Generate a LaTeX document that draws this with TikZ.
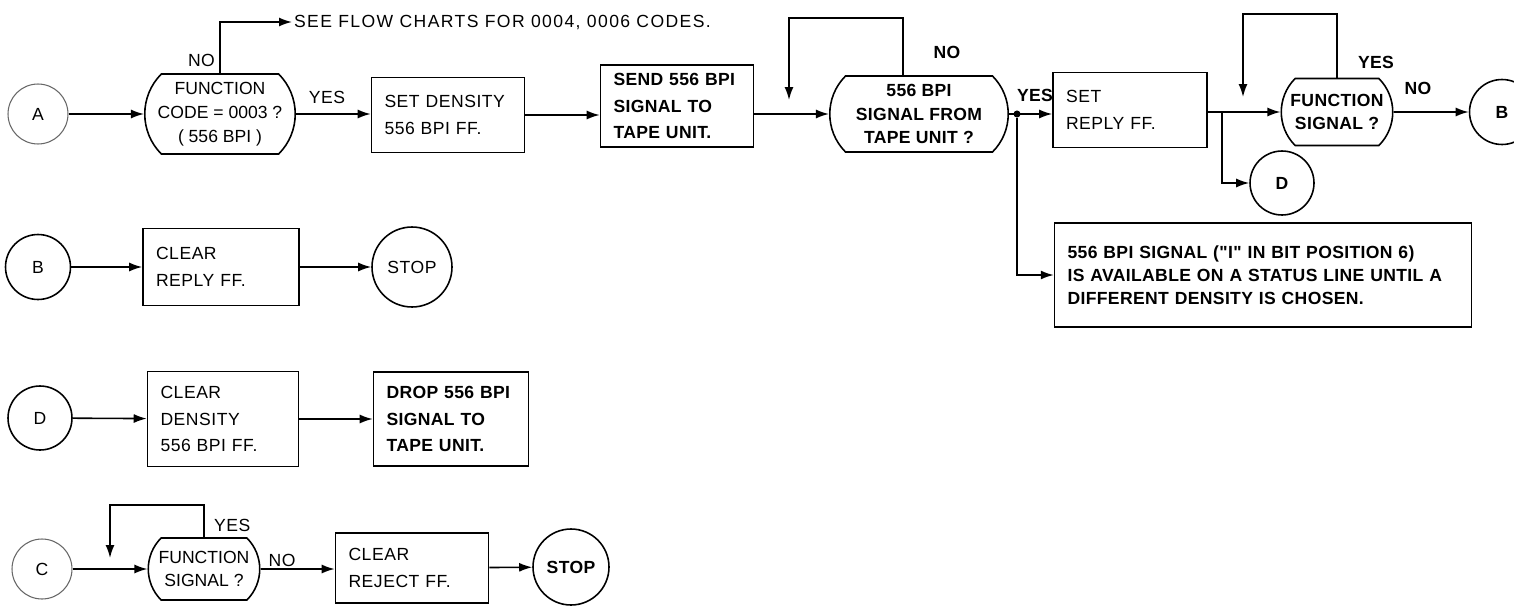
\documentclass[tikz,border=0pt]{standalone}
\usepackage{fontspec}
\setmainfont{Liberation Sans}
\newfontfamily\lightfont[LetterSpace=3]{Liberation Sans}
\newfontfamily\widefont[LetterSpace=8]{Liberation Sans}
\newfontfamily\heavyfont[LetterSpace=2]{Liberation Sans}
\usetikzlibrary{arrows.meta, positioning, shapes.misc}

\begin{document}
\begin{tikzpicture}[x=0.02cm, y=-0.02cm,
        font=\lightfont\fontsize{10}{13.5}\selectfont,
        box/.style={rectangle, draw, line width=0.9pt, align=left, inner xsep=0.26cm,
                    inner ysep=3pt, font=\lightfont\fontsize{10}{15}\selectfont},
        decide/.style={rounded rectangle, rounded rectangle arc length=90, draw,
                       line width=0.9pt, align=center, inner sep=1pt,
                       font=\rmfamily\fontsize{10}{13.5}\selectfont},
        conn/.style={circle, draw, line width=0.9pt, inner sep=0pt},
        flow/.style={-{Latex[length=2.6mm, width=1.8mm]}, line width=0.9pt},
        lbl/.style={inner sep=1pt},
        heavy/.style={font=\heavyfont\bfseries\fontsize{10}{13.5}\selectfont},
        heavybox/.style={font=\heavyfont\bfseries\fontsize{10}{15}\selectfont},
        dot/.style={circle, fill, inner sep=0pt, minimum size=4pt},
    ]
        \useasboundingbox (0,0) rectangle (1514,605);

        % Ligne 556 BPI
        \node[conn, draw=black!60, line width=0.6pt, minimum size=1.2cm] (conA) at (38,114) {A};
        \node[decide, minimum width=3.08cm, minimum height=1.6cm] (codeq) at (220,114)
            {FUNCTION\\CODE = 0003 ?\\( 556 BPI )};
        \node[box, text width=2.54cm, minimum height=1.5cm] (setdens) at (448,115)
            {SET DENSITY\\556 BPI FF.};
        \node[box, heavybox, text width=2.54cm, minimum height=1.64cm] (sendsig) at (677,106)
            {SEND 556 BPI\\SIGNAL TO\\TAPE UNIT.};
        \node[decide, heavy, minimum width=3.64cm, minimum height=1.52cm] (bpiq) at (919,114)
            {556 BPI\\SIGNAL FROM\\TAPE UNIT ?};
        \node[box, text width=2.56cm, minimum height=1.5cm] (setreply) at (1130,110)
            {SET\\REPLY FF.};
        \node[decide, heavy, minimum width=2.3cm, minimum height=1.34cm] (fnq) at (1337,112)
            {FUNCTION\\SIGNAL ?};
        \node[conn, heavy, minimum size=1.3cm] (conBb) at (1502,112) {B};
        \node[conn, heavy, minimum size=1.28cm] (conDb) at (1282,183) {D};
        \node[box, text width=7.82cm, minimum height=2.08cm,
              font=\heavyfont\bfseries\fontsize{10}{13}\selectfont] (status) at (1263,275)
            {556 BPI SIGNAL ("I" IN BIT POSITION 6)\\IS AVAILABLE ON A STATUS LINE UNTIL A\\DIFFERENT DENSITY IS CHOSEN.};

        \node[lbl, anchor=west, font=\widefont\fontsize{10}{12}\selectfont] (seetxt) at (292,22)
            {SEE FLOW CHARTS FOR 0004, 0006 CODES.};
        \coordinate (loopa) at (789,100);
        \coordinate (loopatop) at (789,18);
        \coordinate (br) at (1222,112);
        \coordinate (loopb) at (1243,97);
        \coordinate (loopbtop) at (1243,14);
        \node[dot] (jn) at (1017,114) {};

        \draw[flow] (conA) -- (codeq);
        \draw[flow] (codeq.north) |- (seetxt.west);
        \node[lbl, anchor=east] at (217,60) {NO};
        \draw[flow] (codeq.east) -- (codeq.east -| setdens.west);
        \node[lbl] at (327,97) {YES};
        \draw[flow] (setdens.east) -- (setdens.east -| sendsig.west);
        \draw[flow] (sendsig.east |- bpiq.west) -- (bpiq.west);
        \draw[flow] ([xshift=-0.32cm]bpiq.north) |- (loopatop) -- (loopa);
        \node[lbl, heavy] at (947,52) {NO};
        \draw[flow] (bpiq.east) -- (bpiq.east -| setreply.west);
        \node[lbl, heavy] at (1035,95) {YES};
        \draw[flow] (jn) |- (status.west);
        \draw[flow] (setreply.east |- fnq.west) -- (fnq.west);
        \draw[flow] (br) |- (conDb.west);
        \draw[flow] (fnq.north) |- (loopbtop) -- (loopb);
        \node[lbl, heavy] at (1376,62) {YES};
        \draw[flow] (fnq.east) -- (conBb);
        \node[lbl, heavy] at (1418,88) {NO};

        % Ligne B
        \node[conn, minimum size=1.3cm] (conB) at (38,267) {B};
        \node[box, text width=2.6cm, minimum height=1.54cm] (clrreply) at (221,267)
            {CLEAR\\REPLY FF.};
        \node[conn, minimum size=1.6cm] (stopB) at (412,267) {STOP};
        \draw[flow] (conB) -- (clrreply);
        \draw[flow] (clrreply) -- (stopB);

        % Ligne D
        \node[conn, minimum size=1.28cm] (conD) at (40,418) {D};
        \node[box, text width=2.5cm, minimum height=1.9cm] (clrdens) at (223,419)
            {CLEAR\\DENSITY\\556 BPI FF.};
        \node[box, heavybox, text width=2.58cm, minimum height=1.88cm] (dropsig) at (451,419)
            {DROP 556 BPI\\SIGNAL TO\\TAPE UNIT.};
        \draw[flow] (conD) -- (clrdens);
        \draw[flow] (clrdens) -- (dropsig);

        % Ligne C
        \coordinate (loopc) at (110,558);
        \coordinate (loopctop) at (110,505);
        \node[conn, draw=black!60, line width=0.6pt, minimum size=1.2cm] (conC) at (42,569) {C};
        \node[decide, minimum width=2.3cm, minimum height=1.24cm] (fnqc) at (204,569)
            {FUNCTION\\SIGNAL ?};
        \node[box, text width=2.54cm, minimum height=1.4cm] (clrreject) at (412,568)
            {CLEAR\\REJECT FF.};
        \node[conn, heavy, minimum size=1.52cm] (stopC) at (571,567) {STOP};
        \draw[flow] (conC) -- (fnqc);
        \draw[flow] (fnqc.north) |- (loopctop) -- (loopc);
        \node[lbl, anchor=west] at (212,525) {YES};
        \draw[flow] (fnqc.east) -- (fnqc.east -| clrreject.west);
        \node[lbl] at (282,560) {NO};
        \draw[flow] (clrreject) -- (stopC);
    \end{tikzpicture}
\end{document}
